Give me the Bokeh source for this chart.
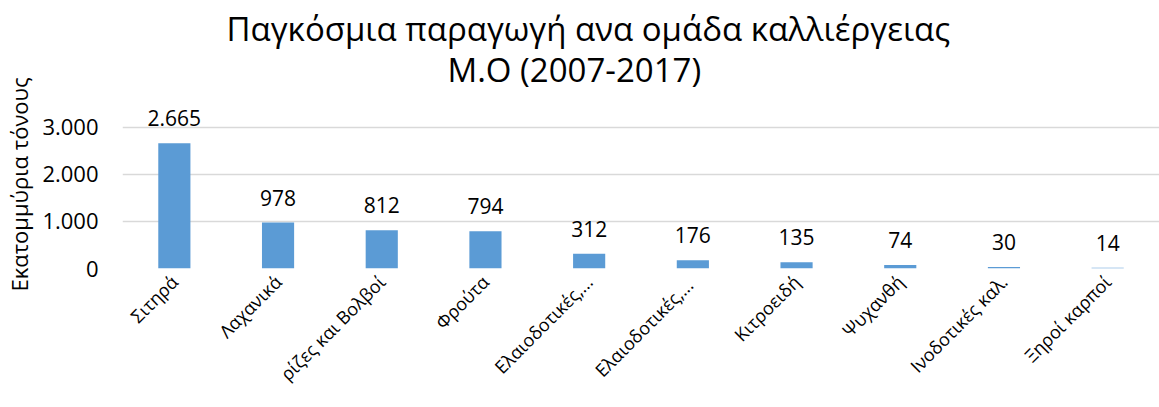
from bokeh.plotting import figure
from bokeh.models import ColumnDataSource, LabelSet, Title, FixedTicker, Range1d
from bokeh.core.properties import value
from bokeh.embed import file_html
from bokeh.resources import INLINE
from math import pi

categories = ["Σιτηρά", "Λαχανικά", "ρίζες και Βολβοί", "Φρούτα", "Ελαιοδοτικές,...",
              "Ελαιοδοτικές,... ", "Κιτροειδή", "Ψυχανθή", "Ινοδοτικές καλ.", "Ξηροί καρποί"]
values = [2665, 978, 812, 794, 312, 176, 135, 74, 30, 14]
value_labels = ["2.665", "978", "812", "794", "312", "176", "135", "74", "30", "14"]
y_tick_values = [0, 1000, 2000, 3000]
y_tick_labels = ["0", "1.000", "2.000", "3.000"]
title_lines = ["Παγκόσμια παραγωγή ανα ομάδα καλλιέργειας", "Μ.Ο (2007-2017)"]
y_axis_title = "Εκατομμύρια τόνους"

FONT = "Open Sans"
BAR = "#5B9BD5"
GRID = "#D9D9D9"

src = ColumnDataSource(dict(cat=categories, val=values, lab=value_labels))

p = figure(x_range=categories, width=1159, height=407, output_backend="svg",
           toolbar_location=None, min_border_left=122, min_border_top=100,
           min_border_bottom=139, min_border_right=0, title=None)
p.y_range = Range1d(0, 3574)
p.outline_line_color = None
p.background_fill_color = "white"
p.border_fill_color = "white"

p.vbar(x="cat", top="val", width=0.31, source=src, fill_color=BAR, line_color=None)

labels = LabelSet(x="cat", y="val", text="lab", source=src, text_align="center",
                  text_baseline="alphabetic", y_offset=17, text_font=value(FONT),
                  text_font_size="21px", text_color="#000000")
p.add_layout(labels)

p.yaxis.ticker = FixedTicker(ticks=y_tick_values)
p.yaxis.major_label_overrides = {v: l for v, l in zip(y_tick_values, y_tick_labels)}
p.yaxis.axis_line_color = None
p.yaxis.major_tick_line_color = None
p.yaxis.minor_tick_line_color = None
p.yaxis.major_label_text_font = FONT
p.yaxis.major_label_text_font_size = "22px"
p.yaxis.major_label_text_color = "#000000"
p.yaxis.major_label_standoff = 18
p.yaxis.axis_label = y_axis_title
p.yaxis.axis_label_text_font = FONT
p.yaxis.axis_label_text_font_size = "22px"
p.yaxis.axis_label_text_font_style = "normal"
p.yaxis.axis_label_text_color = "#000000"
p.yaxis.axis_label_standoff = 5

p.xaxis.axis_line_color = None
p.xaxis.major_tick_line_color = None
p.xaxis.minor_tick_line_color = None
p.xaxis.major_label_orientation = pi / 4
p.xaxis.major_label_text_font = FONT
p.xaxis.major_label_text_font_size = "18px"
p.xaxis.major_label_text_color = "#000000"
p.xaxis.major_label_standoff = 4

p.xgrid.grid_line_color = None
p.ygrid.grid_line_color = GRID
p.ygrid.grid_line_width = 1.5

# second line first (closest to frame), then first line above it
for txt, off, so in [(title_lines[1], 325, 18), (title_lines[0], 104, -30)]:
    p.add_layout(Title(text=txt, align="left", offset=off, text_font=FONT,
                       text_font_size="33px", text_font_style="normal",
                       text_color="#000000", standoff=so), "above")

open("out.html", "w").write(file_html(p, INLINE))
